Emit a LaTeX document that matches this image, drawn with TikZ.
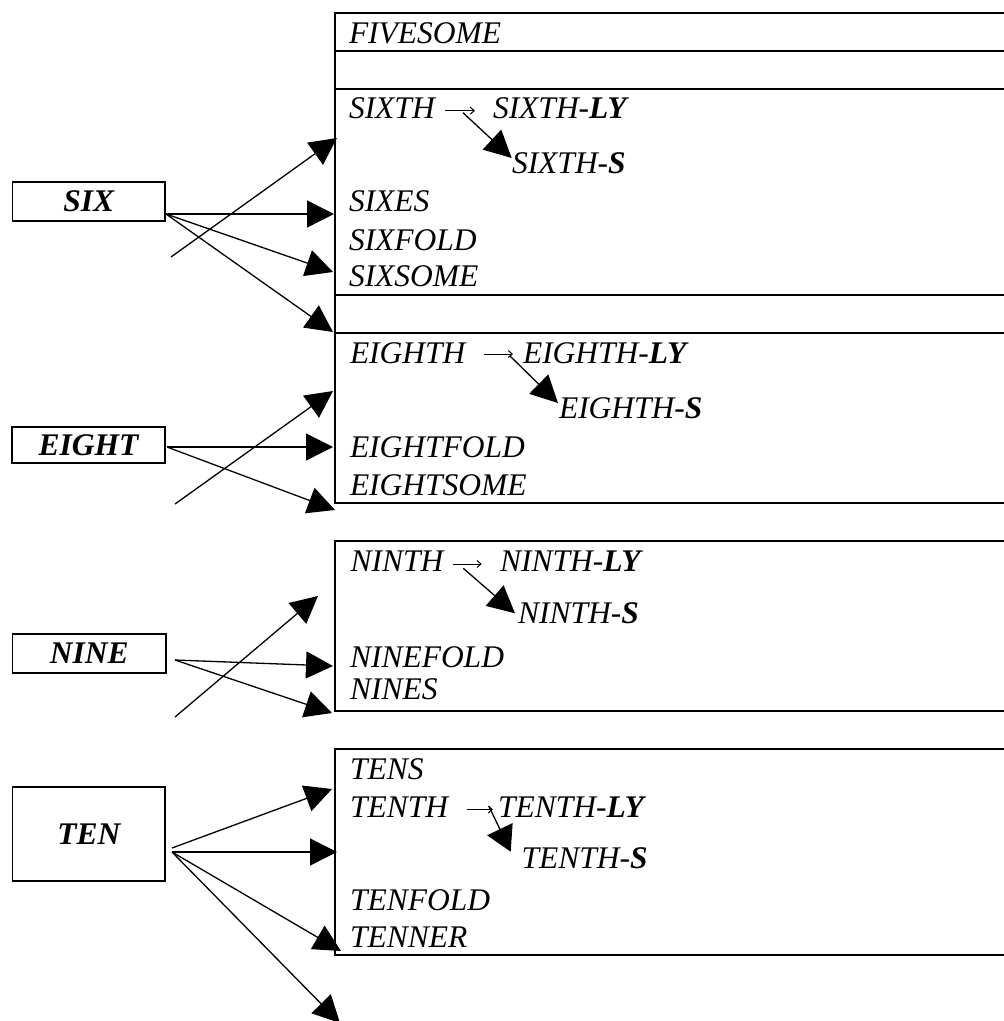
\documentclass[tikz,border=0pt]{standalone}
\usepackage{fontspec}
\setmainfont{Liberation Serif}
\usetikzlibrary{arrows.meta}
\tikzset{
  itx/.style={font=\fontsize{31.5}{36}\selectfont\itshape, anchor=base west, inner sep=0pt, outer sep=0pt},
  lbl/.style={draw, line width=1.8pt, font=\fontsize{31.5}{36}\selectfont\bfseries\itshape, inner sep=0pt},
  frame/.style={line width=2pt},
  bigarrow/.style={line width=1.3pt, -{Triangle[length=27pt,width=27pt]}},
  smallarrow/.style={line width=1pt, -{Straight Barb[length=4pt,width=7pt]}},
}
\begin{document}
\begin{tikzpicture}[x=1pt,y=-1pt]
\useasboundingbox (0,0) rectangle (1004,1021);
% ---------- big frames ----------
\draw[frame] (1010,13) -- (334.5,13) -- (334.5,503) -- (1010,503);
\foreach \yy in {50.5,88.5,295,333} \draw[frame] (334.5,\yy) -- (1010,\yy);
\draw[frame] (1010,541) -- (335,541) -- (335,710.5) -- (1010,710.5);
\draw[frame] (1010,749) -- (335,749) -- (335,955.3) -- (1010,955.3);
% ---------- label boxes ----------
\node[lbl, minimum width=152.5pt, minimum height=39pt] (six) at (88.8,201.2) {SIX};
\node[lbl, minimum width=153pt, minimum height=36pt] (eight) at (88.5,445) {EIGHT};
\node[lbl, minimum width=153.5pt, minimum height=39pt] (nine) at (89.2,653.5) {NINE};
\node[lbl, minimum width=152.5pt, minimum height=94pt] (ten) at (88.8,834) {TEN};
% ---------- texts ----------
\node[itx] (fivesome) at (349,43) {FIVESOME};
\node[itx] (sixth) at (349,118.5) {SIXTH};
\node[itx] (sixthly) at (493,118.5) {SIXTH-\textbf{LY}};
\node[itx] (sixths) at (512,173.5) {SIXTH-\textbf{S}};
\node[itx] (sixes) at (349,211.7) {SIXES};
\node[itx] (sixfold) at (349,250) {SIXFOLD};
\node[itx] (sixsome) at (349,286.7) {SIXSOME};
\node[itx] (eighth) at (350,363) {EIGHTH};
\node[itx] (eighthly) at (523,363) {EIGHTH-\textbf{LY}};
\node[itx] (eighths) at (559,418) {EIGHTH-\textbf{S}};
\node[itx] (eightfold) at (350,457) {EIGHTFOLD};
\node[itx] (eightsome) at (350,495) {EIGHTSOME};
\node[itx] (ninth) at (350.5,571.7) {NINTH};
\node[itx] (ninthly) at (500,571.7) {NINTH-\textbf{LY}};
\node[itx] (ninths) at (518,623) {NINTH-\textbf{S}};
\node[itx] (ninefold) at (350,667) {NINEFOLD};
\node[itx] (nines) at (350,699.3) {NINES};
\node[itx] (tens) at (350,779) {TENS};
\node[itx] (tenth) at (350,817) {TENTH};
\node[itx] (tenthly) at (498,817) {TENTH-\textbf{LY}};
\node[itx] (tenths) at (521.7,868.3) {TENTH-\textbf{S}};
\node[itx] (tenfold) at (350,910) {TENFOLD};
\node[itx] (tenner) at (350,947.3) {TENNER};
% ---------- arrow end points ----------
\coordinate (s6) at (166,214);
\coordinate (s6x) at (171,257);
\coordinate (s6a) at (334,214);
\coordinate (s6b) at (333,272);
\coordinate (s6c) at (333,332);
\coordinate (s6d) at (337,138);
\coordinate (e8) at (167,447);
\coordinate (e8x) at (175,504);
\coordinate (e8a) at (333,447);
\coordinate (e8b) at (335,510);
\coordinate (e8c) at (333,391);
\coordinate (n9) at (175,660);
\coordinate (n9x) at (175,717);
\coordinate (n9a) at (333,666);
\coordinate (n9b) at (332,713);
\coordinate (n9c) at (318,596);
\coordinate (t10u) at (172,848);
\coordinate (t10) at (172,852);
\coordinate (t10a) at (332,789);
\coordinate (t10b) at (337,852);
\coordinate (t10c) at (341,951);
\coordinate (t10d) at (340,1023);
% ---------- connectors ----------
\draw[bigarrow] (s6) -- (s6a);
\draw[bigarrow] (s6) -- (s6b);
\draw[bigarrow] (s6) -- (s6c);
\draw[bigarrow] (s6x) -- (s6d);
\draw[bigarrow] (e8) -- (e8a);
\draw[bigarrow] (e8) -- (e8b);
\draw[bigarrow] (e8x) -- (e8c);
\draw[bigarrow] (n9) -- (n9a);
\draw[bigarrow] (n9) -- (n9b);
\draw[bigarrow] (n9x) -- (n9c);
\draw[bigarrow] (t10u) -- (t10a);
\draw[bigarrow] (t10) -- (t10b);
\draw[bigarrow] (t10) -- (t10c);
\draw[bigarrow] (t10) -- (t10d);
% ---------- inner arrows ----------
\coordinate (a1s) at (445,110.7); \coordinate (a1e) at (475,110.7);
\coordinate (d1s) at (463,112.7); \coordinate (d1e) at (511.7,158);
\draw[smallarrow] (a1s) -- (a1e);
\draw[bigarrow] (d1s) -- (d1e);
\coordinate (a2s) at (484,354); \coordinate (a2e) at (513,354);
\coordinate (d2s) at (510,356); \coordinate (d2e) at (558,403);
\draw[smallarrow] (a2s) -- (a2e);
\draw[bigarrow] (d2s) -- (d2e);
\coordinate (a3s) at (452.7,564); \coordinate (a3e) at (481.7,564);
\coordinate (d3s) at (463.3,568.3); \coordinate (d3e) at (515,613.3);
\draw[smallarrow] (a3s) -- (a3e);
\draw[bigarrow] (d3s) -- (d3e);
\coordinate (a4s) at (466.5,809.5); \coordinate (a4e) at (493,809.5);
\coordinate (d4s) at (489,806.5); \coordinate (d4e) at (510.7,851.7);
\draw[smallarrow] (a4s) -- (a4e);
\draw[line width=1.3pt, -{Triangle[length=25pt,width=28pt]}] (d4s) -- (d4e);
\end{tikzpicture}
\end{document}
